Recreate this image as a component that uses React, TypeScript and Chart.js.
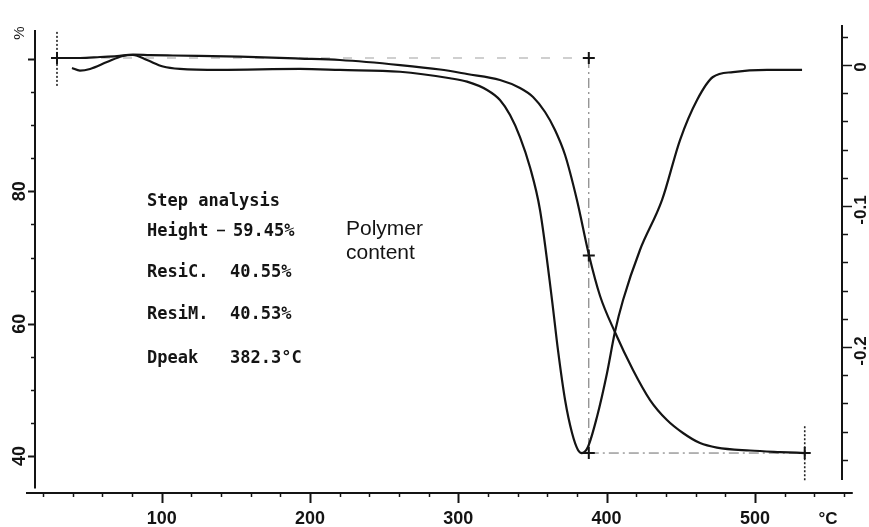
import React, { useEffect, useRef } from "react";
import { Chart, registerables } from "chart.js";

Chart.register(...registerables);

// ---- Data ----
// TGA curve: temperature (°C) vs. weight (%) on the left axis
const tgaTemp = [29.4, 44.9, 58.4, 69.9, 80.6, 92.1, 107.6, 152.8, 193.3, 220.2, 260.7, 287.7, 305.9, 328.1, 341.6, 350.4, 358.5, 365.2, 372.0, 380.0, 388.1, 395.6, 405.6, 417.8, 429.3, 440.7, 451.5, 463.0, 474.4, 496.7, 516.9, 533.8];
const tgaWeight = [100.15, 100.15, 100.3, 100.45, 100.68, 100.6, 100.53, 100.35, 100.07, 99.85, 99.09, 98.41, 97.73, 96.83, 95.63, 94.27, 91.99, 89.27, 85.49, 78.69, 70.38, 64.18, 58.74, 53.0, 48.46, 45.44, 43.48, 41.96, 41.28, 40.83, 40.6, 40.45];

// DTG curve: temperature (°C) vs. derivative on the right axis
const dtgTemp = [39.5, 44.9, 51.7, 63.1, 73.9, 80.6, 90.1, 100.9, 112.3, 139.3, 193.3, 220.2, 260.7, 294.4, 305.9, 319.4, 328.1, 334.9, 341.6, 348.3, 355.1, 363.2, 367.2, 372.0, 376.7, 380.7, 383.4, 387.4, 393.5, 400.3, 405.6, 411.1, 422.5, 437.4, 449.5, 461.0, 471.7, 485.2, 508.2, 531.8];
const dtgRate = [-0.0021, -0.004, -0.0028, 0.0021, 0.0064, 0.0071, 0.0035, -0.0011, -0.0028, -0.0035, -0.0028, -0.0035, -0.0048, -0.0094, -0.0118, -0.0177, -0.0248, -0.0355, -0.0511, -0.0723, -0.1028, -0.1667, -0.2021, -0.2376, -0.261, -0.273, -0.2752, -0.2709, -0.2496, -0.2184, -0.1894, -0.1667, -0.1312, -0.0957, -0.0532, -0.0248, -0.0085, -0.005, -0.0035, -0.0035];

// Step-analysis reference marks
const startTemp = 29.4;
const stepTemp = 388;
const endTemp = 533.6;
const baseWeight = 100.15;
const midWeight = 70.3;
const residueWeight = 40.45;
const startDotted = [104.1, 95.9];
const endDotted = [44.5, 36.1];

// Axis tick labels
const xTickLabels = [100, 200, 300, 400, 500];
const leftTickLabels = [40, 60, 80];
const rightTickLabels = [0, -0.1, -0.2];

// Annotation text
const stepLabels = ["Step analysis", "Height", "ResiC.", "ResiM.", "Dpeak"];
const stepValues = ["", "59.45%", "40.55%", "40.53%", "382.3°C"];
const noteLines = ["Polymer", "content"];

const INK = "#141414";

const drawPlugin = {
  id: "thermoAxes",
  afterDraw(chart: any) {
    const ctx = chart.ctx as CanvasRenderingContext2D;
    const xs = chart.scales.x;
    const ys = chart.scales.y;
    const y1 = chart.scales.y1;
    const area = chart.chartArea;
    ctx.save();
    ctx.strokeStyle = INK;
    ctx.fillStyle = INK;
    ctx.lineCap = "butt";

    // X axis
    const xb = area.bottom;
    ctx.lineWidth = 2;
    ctx.beginPath();
    ctx.moveTo(xs.getPixelForValue(8.5), xb);
    ctx.lineTo(xs.getPixelForValue(566), xb);
    ctx.stroke();
    for (let t = 20; t <= 560; t += 20) {
      const px = Math.round(xs.getPixelForValue(t)) + 0.5;
      const major = t % 100 === 0;
      ctx.lineWidth = major ? 2 : 1.5;
      ctx.beginPath();
      ctx.moveTo(px, xb);
      ctx.lineTo(px, xb + (major ? 10 : 4));
      ctx.stroke();
    }
    ctx.font = 'bold 18px "Liberation Sans", Arial, sans-serif';
    ctx.textAlign = "center";
    ctx.textBaseline = "middle";
    xTickLabels.forEach((t) => {
      ctx.fillText(String(t), xs.getPixelForValue(t), 519);
    });
    ctx.font = 'bold 17px "Liberation Sans", Arial, sans-serif';
    ctx.fillText("°C", 828, 519);

    // Left axis
    const lx = area.left;
    ctx.lineWidth = 2;
    ctx.beginPath();
    ctx.moveTo(lx, ys.getPixelForValue(104.4));
    ctx.lineTo(lx, ys.getPixelForValue(35.1));
    ctx.stroke();
    for (let v = 40; v <= 100; v += 5) {
      const py = Math.round(ys.getPixelForValue(v)) + 0.5;
      const major = v % 20 === 0;
      ctx.lineWidth = major ? 2 : 1.5;
      ctx.beginPath();
      ctx.moveTo(lx, py);
      ctx.lineTo(lx - (major ? 7 : 4), py);
      ctx.stroke();
    }
    ctx.font = 'bold 18px "Liberation Sans", Arial, sans-serif';
    leftTickLabels.forEach((v) => {
      ctx.save();
      ctx.translate(20, ys.getPixelForValue(v));
      ctx.rotate(-Math.PI / 2);
      ctx.fillText(String(v), 0, 0);
      ctx.restore();
    });
    ctx.save();
    ctx.font = '15px "Liberation Sans", Arial, sans-serif';
    ctx.translate(20, 33);
    ctx.rotate(-Math.PI / 2);
    ctx.fillText("%", 0, 0);
    ctx.restore();

    // Right axis
    const rx = area.right;
    ctx.lineWidth = 2;
    ctx.beginPath();
    ctx.moveTo(rx, y1.getPixelForValue(0.0284));
    ctx.lineTo(rx, y1.getPixelForValue(-0.2943));
    ctx.stroke();
    for (let k = 1; k >= -14; k--) {
      const d = k * 0.02;
      const py = Math.round(y1.getPixelForValue(d)) + 0.5;
      const major = k % 5 === 0;
      ctx.lineWidth = 1.5;
      ctx.beginPath();
      ctx.moveTo(rx, py);
      ctx.lineTo(rx + (major ? 10 : 6), py);
      ctx.stroke();
    }
    ctx.font = 'bold 17px "Liberation Sans", Arial, sans-serif';
    rightTickLabels.forEach((d) => {
      ctx.save();
      ctx.translate(861, y1.getPixelForValue(d) + (d === 0 ? 2 : 4));
      ctx.rotate(-Math.PI / 2);
      ctx.fillText(d === 0 ? "0" : String(d), 0, 0);
      ctx.restore();
    });

    // Step analysis text block
    ctx.textAlign = "left";
    ctx.textBaseline = "alphabetic";
    ctx.font = 'bold 17px "DejaVu Sans Mono", "Liberation Mono", monospace';
    const rowsY = [206, 236, 277, 319, 363];
    stepLabels.forEach((lab, i) => {
      ctx.fillText(lab, 147, rowsY[i]);
      if (stepValues[i]) ctx.fillText(stepValues[i], i === 1 ? 233 : 230, rowsY[i]);
    });
    ctx.lineWidth = 1.6;
    ctx.beginPath();
    ctx.moveTo(217, 230.5);
    ctx.lineTo(225, 230.5);
    ctx.stroke();

    ctx.font = '21px "Liberation Sans", Arial, sans-serif';
    ctx.fillText(noteLines[0], 346, 235);
    ctx.fillText(noteLines[1], 346, 259);

    ctx.restore();
  },
};

const pts = (xsArr: number[], ysArr: number[]) => xsArr.map((x, i) => ({ x, y: ysArr[i] }));

export default function App() {
  const canvasRef = useRef<HTMLCanvasElement | null>(null);

  useEffect(() => {
    if (!canvasRef.current) return;
    const chart = new Chart(canvasRef.current, {
      type: "line",
      data: {
        datasets: [
          {
            label: "TGA",
            data: pts(tgaTemp, tgaWeight),
            yAxisID: "y",
            borderColor: INK,
            borderWidth: 2.2,
            pointRadius: 0,
            cubicInterpolationMode: "monotone",
            fill: false,
            order: 0,
          },
          {
            label: "DTG",
            data: pts(dtgTemp, dtgRate),
            yAxisID: "y1",
            borderColor: INK,
            borderWidth: 2.2,
            pointRadius: 0,
            cubicInterpolationMode: "monotone",
            fill: false,
            order: 0,
          },
          {
            label: "baseline",
            data: [
              { x: startTemp, y: baseWeight },
              { x: stepTemp, y: baseWeight },
            ],
            yAxisID: "y",
            borderColor: "#a0a0a0",
            borderWidth: 1.2,
            borderDash: [9, 13],
            pointRadius: 0,
            order: 2,
          },
          {
            label: "step",
            data: [
              { x: stepTemp, y: baseWeight },
              { x: stepTemp, y: residueWeight },
            ],
            yAxisID: "y",
            borderColor: "#6a6a6a",
            borderWidth: 1,
            borderDash: [10, 4, 2, 4],
            pointRadius: 0,
            order: 2,
          },
          {
            label: "residue",
            data: [
              { x: stepTemp, y: residueWeight },
              { x: endTemp, y: residueWeight },
            ],
            yAxisID: "y",
            borderColor: "#6a6a6a",
            borderWidth: 1,
            borderDash: [10, 4, 2, 4],
            pointRadius: 0,
            order: 2,
          },
          {
            label: "startLimit",
            data: [
              { x: startTemp, y: startDotted[0] },
              { x: startTemp, y: startDotted[1] },
            ],
            yAxisID: "y",
            borderColor: "#222",
            borderWidth: 1.6,
            borderDash: [2, 2],
            pointRadius: 0,
            order: 2,
          },
          {
            label: "endLimit",
            data: [
              { x: endTemp, y: endDotted[0] },
              { x: endTemp, y: endDotted[1] },
            ],
            yAxisID: "y",
            borderColor: "#222",
            borderWidth: 1.6,
            borderDash: [2, 2],
            pointRadius: 0,
            order: 2,
          },
          {
            label: "markers",
            data: [
              { x: startTemp, y: baseWeight },
              { x: stepTemp, y: baseWeight },
              { x: stepTemp, y: midWeight },
              { x: stepTemp, y: residueWeight },
              { x: endTemp, y: residueWeight },
            ],
            yAxisID: "y",
            showLine: false,
            pointStyle: "cross",
            pointRadius: 6,
            pointBorderWidth: 2,
            pointBorderColor: INK,
            borderColor: INK,
            order: 1,
          },
        ],
      },
      options: {
        responsive: false,
        animation: false,
        events: [],
        layout: { padding: { left: 35, right: 27, top: 25, bottom: 34 } },
        plugins: { legend: { display: false }, tooltip: { enabled: false } },
        scales: {
          x: { type: "linear", min: 14.57, max: 558.73, display: false },
          y: { type: "linear", min: 34.41, max: 105.14, display: false },
          y1: { type: "linear", position: "right", min: -0.30355, max: 0.02837, display: false },
        },
      },
      plugins: [drawPlugin],
    } as any);
    return () => chart.destroy();
  }, []);

  return (
    <div style={{ position: "fixed", left: 0, top: 0, width: 869, height: 527, background: "#fff" }}>
      <canvas ref={canvasRef} width={869} height={527} />
    </div>
  );
}
